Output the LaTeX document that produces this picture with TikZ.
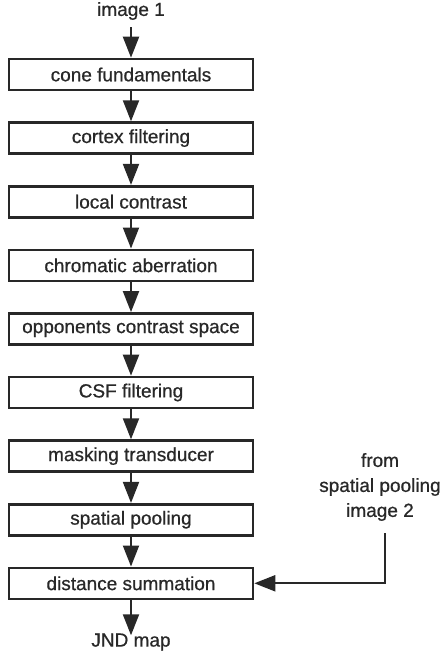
\documentclass[tikz,border=0pt]{standalone}
\usepackage{fontspec}
\setmainfont{Liberation Sans}
\newfontfamily\heavyfont{Liberation Sans}[FakeBold=0.7]
\usetikzlibrary{arrows.meta}
\definecolor{ink}{RGB}{40,40,40}
\begin{document}
\begin{tikzpicture}[x=1pt,y=-1pt,
  font=\heavyfont\fontsize{19}{24}\selectfont, text=ink,
  stepbox/.style={draw=ink, line width=2.6pt, minimum width=244pt, minimum height=31pt, inner sep=0pt, anchor=center},
  flow/.style={draw=ink, line width=2pt, -{Triangle[length=21pt,width=16pt]}},
  lbl/.style={inner sep=0pt, anchor=center}]
\useasboundingbox (0,0) rectangle (444,661);
\node[lbl] (in) at (131,11) {image 1};
\node[stepbox] (b1) at (131,74.5) {cone fundamentals};
\node[stepbox] (b2) at (131,138.1) {cortex filtering};
\node[stepbox] (b3) at (131,201.7) {local contrast};
\node[stepbox] (b4) at (131,265.3) {chromatic aberration};
\node[stepbox] (b5) at (131,328.9) {opponents contrast space};
\node[stepbox] (b6) at (131,392.5) {CSF filtering};
\node[stepbox] (b7) at (131,456.1) {masking transducer};
\node[stepbox] (b8) at (131,519.7) {spatial pooling};
\node[stepbox] (b9) at (131,583.3) {distance summation};
\node[lbl] (out) at (131,642) {JND map};
\node[lbl, align=center, font=\heavyfont\fontsize{19}{25}\selectfont] (ext) at (380,487) {from\\spatial pooling\\image 2};
\coordinate (c1) at (385,533);
\coordinate (c2) at (385,583.3);
\draw[flow] (in.south) ++(0,7) -- (b1.north);
\draw[flow] (b1) -- (b2);
\draw[flow] (b2) -- (b3);
\draw[flow] (b3) -- (b4);
\draw[flow] (b4) -- (b5);
\draw[flow] (b5) -- (b6);
\draw[flow] (b6) -- (b7);
\draw[flow] (b7) -- (b8);
\draw[flow] (b8) -- (b9);
\draw[flow] (b9) -- ([yshift=-2pt]out.north);
\draw[flow] (c1) -- (c2) -- (b9.east);
\end{tikzpicture}
\end{document}
